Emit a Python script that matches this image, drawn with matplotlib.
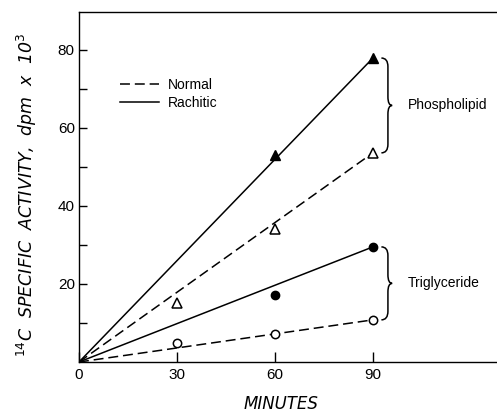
import matplotlib
matplotlib.use("Agg")
import matplotlib.pyplot as plt
from matplotlib.lines import Line2D
from matplotlib.path import Path
from matplotlib.patches import PathPatch

# ---- data ----
minutes_normal = [30, 60, 90]
minutes_rachitic = [60, 90]
phospho_normal = [15.1, 34.0, 53.6]
phospho_rachitic = [53.0, 77.9]
trig_normal = [4.9, 7.2, 10.8]
trig_rachitic = [17.2, 29.5]

fit_x = [0, 90]
fit_phospho_normal = [0, 53.6]
fit_phospho_rachitic = [0, 77.9]
fit_trig_normal = [0, 10.8]
fit_trig_rachitic = [0, 29.5]

x_ticks = [0, 30, 60, 90]
x_tick_labels = ["0", "30", "60", "90"]
y_major = [20, 40, 60, 80]
y_minor = [10, 30, 50, 70]
group_labels = ["Phospholipid", "Triglyceride"]
legend_labels = ["Normal", "Rachitic"]

W, H = 497, 413
fig = plt.figure(figsize=(W / 100, H / 100), dpi=100)
plt.rcParams['font.family'] = ['Liberation Sans', 'DejaVu Sans']
ax = fig.add_axes([79 / W, 1 - 362 / H, (W - 79) / W, 350 / H])
ax.set_xlim(0, 128)
ax.set_ylim(0, 89.7)

dash = (0, (6.5, 3.2))
lw = 1.1
ax.plot(fit_x, fit_phospho_rachitic, color='black', lw=lw)
ax.plot(fit_x, fit_phospho_normal, color='black', lw=lw, linestyle=dash)
ax.plot(fit_x, fit_trig_rachitic, color='black', lw=lw)
ax.plot(fit_x, fit_trig_normal, color='black', lw=lw, linestyle=dash)

ax.plot(minutes_rachitic, phospho_rachitic, linestyle='none', marker='^',
        ms=7, mfc='black', mec='black', clip_on=False)
ax.plot(minutes_normal, phospho_normal, linestyle='none', marker='^',
        ms=7, mfc='white', mec='black', mew=1.1, clip_on=False)
ax.plot(minutes_rachitic, trig_rachitic, linestyle='none', marker='o',
        ms=6, mfc='black', mec='black', clip_on=False)
ax.plot(minutes_normal, trig_normal, linestyle='none', marker='o',
        ms=6, mfc='white', mec='black', mew=1.1, clip_on=False)


def brace(ax, top, bot, x0=92.6, xm=94.6, xp=95.9, r=2.2):
    mid = (top + bot) / 2
    verts = [(x0, top), (xm, top), (xm, top - r), (xm, mid + r),
             (xm, mid), (xp, mid), (xm, mid), (xm, mid - r),
             (xm, bot + r), (xm, bot), (x0, bot)]
    codes = [Path.MOVETO, Path.CURVE3, Path.CURVE3, Path.LINETO,
             Path.CURVE3, Path.CURVE3, Path.CURVE3, Path.CURVE3,
             Path.LINETO, Path.CURVE3, Path.CURVE3]
    ax.add_patch(PathPatch(Path(verts, codes), fill=False, lw=1.1,
                           edgecolor='black', clip_on=False))
    return mid


m1 = brace(ax, phospho_rachitic[-1], phospho_normal[-1])
m2 = brace(ax, trig_rachitic[-1], trig_normal[-1])
ax.text(100.6, m1, group_labels[0], fontsize=10, va='center', ha='left')
ax.text(100.6, m2, group_labels[1], fontsize=10, va='center', ha='left')

handles = [Line2D([], [], color='black', lw=lw, linestyle=dash),
           Line2D([], [], color='black', lw=lw)]
ax.legend(handles, legend_labels, loc='upper left',
          bbox_to_anchor=(0.098, 0.812), frameon=False, fontsize=10,
          handlelength=2.8, handletextpad=0.65, labelspacing=0.3,
          borderpad=0, borderaxespad=0)

# axes styling
ax.spines['right'].set_visible(False)
for s in ['left', 'bottom', 'top']:
    ax.spines[s].set_linewidth(1.0)
ax.set_xticks(x_ticks)
ax.set_xticklabels(x_tick_labels, fontsize=11)
ax.set_yticks(y_major)
ax.set_yticklabels([str(v) for v in y_major], fontsize=11)
ax.set_yticks(y_minor, minor=True)
ax.tick_params(axis='x', direction='in', length=7, width=1, pad=4)
ax.tick_params(axis='y', which='major', direction='in', length=6, width=1, pad=3)
ax.tick_params(axis='y', which='minor', direction='in', length=6, width=1)

ax.set_xlabel("MINUTES", fontsize=12, fontstyle='italic',
              family=['DejaVu Sans'], va='center')
ax.xaxis.set_label_coords((281 - 79) / (W - 79), -(404 - 362) / 350)
ax.set_ylabel("$^{14}$C  SPECIFIC  ACTIVITY,  dpm  x  10$^{3}$", fontsize=12.5,
              fontstyle='italic', family=['DejaVu Sans'], va='center')
ax.yaxis.set_label_coords(-(79 - 27) / (W - 79), (362 - 195) / 350)

fig.savefig("out.png", dpi=100)
